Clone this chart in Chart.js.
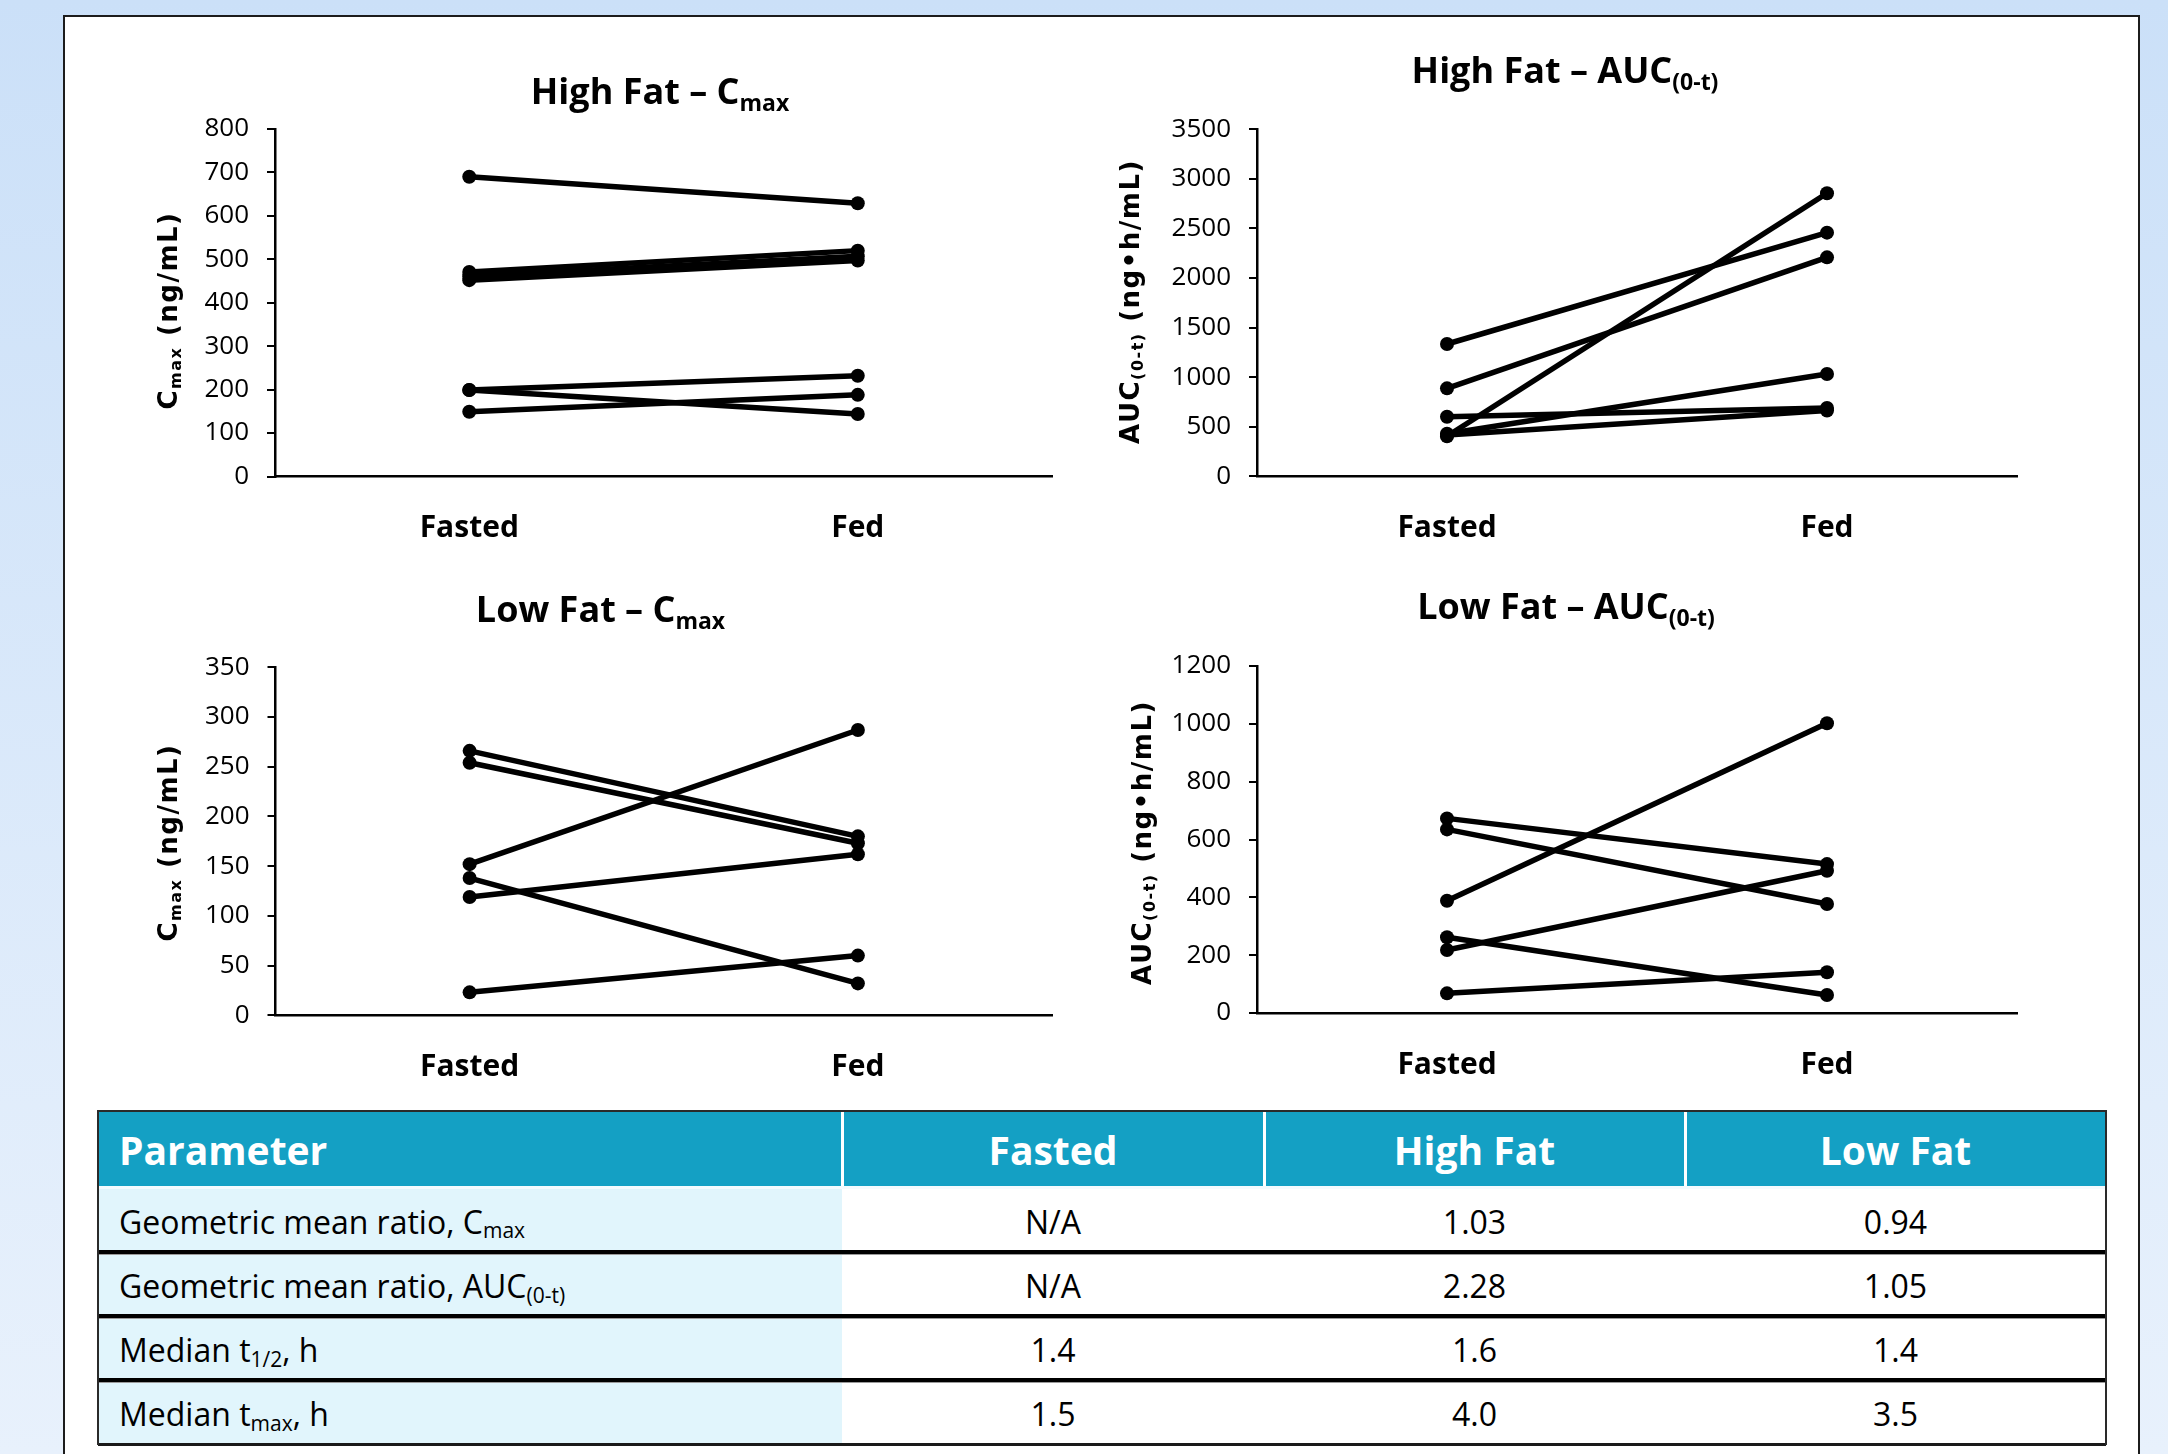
<!DOCTYPE html>
<html>
<head>
<meta charset="utf-8">
<title>Food effect on pharmacokinetics</title>
<script src="https://cdn.jsdelivr.net/npm/chart.js@4.4.1/dist/chart.umd.min.js"></script>
<style>
  html, body { margin: 0; padding: 0; }
  body {
    width: 2168px; height: 1454px; overflow: hidden; position: relative;
    background: linear-gradient(180deg, #cbe0f8 0%, #e8f1fc 100%);
    font-family: 'Open Sans', sans-serif;
  }
  #panel {
    position: absolute; left: 63px; top: 15px; width: 2077px; height: 1470px;
    background: #fff; border: 2.5px solid #1c1c1c; box-sizing: border-box;
  }
  canvas { position: absolute; }
  .cell {
    position: absolute; box-sizing: border-box; display: flex; align-items: center;
    font-size: 32px; color: #000; white-space: nowrap; padding-top: 3px;
  }
  .cell.head { background: #14a0c4; color: #fff; font-weight: 700; font-size: 39px; padding-top: 0; }
  .cell.label { background: #e1f5fc; justify-content: flex-start; padding-left: 21px; }
  .cell.value { background: #fff; justify-content: center; }
  .cell.head.first { justify-content: flex-start; padding-left: 21px; }
  .cell.head.mid { justify-content: center; }
  .rule { position: absolute; }
  sub.s { font-size: 21px; position: relative; top: 9px; vertical-align: baseline; line-height: 0; }
</style>
</head>
<body>
<div id="panel"></div>
<div id="stage"></div>
<div id="table"></div>
<script>
// ---- data ----
const categories = ['Fasted', 'Fed'];

// High fat cohort, Cmax (ng/mL), one entry per subject
const hfCmaxFasted = [690, 471, 461, 452, 199, 199, 149];
const hfCmaxFed    = [629, 520, 507, 497, 232, 144, 188];

// High fat cohort, AUC(0-t) (ng•h/mL)
const hfAucFasted = [1335, 888, 602, 405, 430, 418];
const hfAucFed    = [2458, 2209, 690, 2855, 1032, 665];

// Low fat cohort, Cmax (ng/mL)
const lfCmaxFasted = [266, 254, 152, 138, 119, 23];
const lfCmaxFed    = [180, 173, 287, 32, 162, 60];

// Low fat cohort, AUC(0-t) (ng•h/mL)
const lfAucFasted = [673, 635, 388, 262, 218, 68];
const lfAucFed    = [515, 377, 1002, 62, 492, 141];

// Summary table
const tableHeader = ['Parameter', 'Fasted', 'High Fat', 'Low Fat'];
const rowLabels = [
  ['Geometric mean ratio, C', 'max', ''],
  ['Geometric mean ratio, AUC', '(0-t)', ''],
  ['Median t', '1/2', ', h'],
  ['Median t', 'max', ', h']
];
const fastedCol  = ['N/A', 'N/A', '1.4', '1.5'];
const highFatCol = ['1.03', '2.28', '1.6', '4.0'];
const lowFatCol  = ['0.94', '1.05', '1.4', '3.5'];

// ---- charts ----
Chart.defaults.font.family = "'Open Sans', sans-serif";
Chart.defaults.color = '#000';

function drawRich(ctx, parts, x, y) {
  let total = 0;
  parts.forEach(p => { ctx.font = p.font; p.w = ctx.measureText(p.text).width; total += p.w; });
  let cx = x - total / 2;
  parts.forEach(p => { ctx.font = p.font; ctx.fillText(p.text, cx, y + (p.dy || 0)); cx += p.w; });
}

const captionPlugin = {
  id: 'caption',
  afterDraw(chart, args, o) {
    const ctx = chart.ctx;
    ctx.save();
    ctx.fillStyle = '#000';
    ctx.textAlign = 'left';
    ctx.textBaseline = 'alphabetic';
    // chart heading with subscript
    drawRich(ctx, [
      { text: o.title[0], font: "bold 36px 'Open Sans'" },
      { text: o.title[1], font: "bold 23px 'Open Sans'", dy: 7 }
    ], o.titleX - o.ox, o.titleY - o.oy);
    // vertical axis title
    ctx.translate(o.axisX - o.ox, o.axisY - o.oy);
    ctx.rotate(-Math.PI / 2);
    ctx.letterSpacing = '1.5px';
    drawRich(ctx, [
      { text: o.axis[0], font: "bold 26px 'DejaVu Sans'" },
      { text: o.axis[1], font: "bold 16px 'DejaVu Sans'", dy: 4 },
      { text: o.axis[2], font: "bold 26px 'DejaVu Sans'" }
    ], 0, 0);
    ctx.restore();
  }
};

function buildChart(c) {
  const canvas = document.createElement('canvas');
  canvas.width = c.box.w; canvas.height = c.box.h;
  canvas.style.left = c.box.x + 'px'; canvas.style.top = c.box.y + 'px';
  document.getElementById('stage').appendChild(canvas);
  const yW = c.area.left - c.box.x;
  const xH = c.box.y + c.box.h - c.area.bottom;
  new Chart(canvas, {
    type: 'line',
    data: {
      labels: categories,
      datasets: c.fasted.map((v, i) => ({
        data: [v, c.fed[i]],
        borderColor: '#000', borderWidth: 5.5, tension: 0,
        pointRadius: 7, pointBackgroundColor: '#000', pointBorderWidth: 0
      }))
    },
    options: {
      responsive: false, animation: false, devicePixelRatio: 1,
      layout: { padding: { left: 0, top: c.area.top - c.box.y, right: c.box.x + c.box.w - c.area.right, bottom: 0 } },
      plugins: {
        legend: { display: false }, tooltip: { enabled: false }, title: { display: false },
        caption: {
          ox: c.box.x, oy: c.box.y,
          title: c.title, titleX: c.titleX, titleY: c.titleY,
          axis: c.axis, axisX: c.axisX, axisY: c.axisY
        }
      },
      scales: {
        x: {
          offset: true,
          grid: { display: false, drawTicks: false },
          border: { display: true, color: '#000', width: 2.5 },
          ticks: { font: { size: 30, weight: 'bold' }, color: '#000', padding: 34 },
          afterFit: s => { s.height = xH; }
        },
        y: {
          min: 0, max: c.max,
          grid: { drawOnChartArea: false, drawTicks: true, tickLength: 8, color: '#000', lineWidth: 2 },
          border: { display: true, color: '#000', width: 2.5 },
          ticks: { stepSize: c.step, font: { size: 26 }, color: '#000', padding: 18, callback: v => String(v) },
          afterFit: s => { s.width = yW; }
        }
      }
    },
    plugins: [captionPlugin]
  });
}

buildChart({
  box: { x: 80, y: 30, w: 1010, h: 540 },
  area: { left: 275, right: 1052, top: 129, bottom: 476.5 },
  max: 800, step: 100, fasted: hfCmaxFasted, fed: hfCmaxFed,
  title: ['High Fat \u2013 C', 'max'], titleX: 660, titleY: 103.6,
  axis: ['C', 'max', ' (ng/mL)'], axisX: 177, axisY: 310.5
});
buildChart({
  box: { x: 1090, y: 30, w: 1000, h: 540 },
  area: { left: 1257, right: 2017, top: 129.3, bottom: 476.4 },
  max: 3500, step: 500, fasted: hfAucFasted, fed: hfAucFed,
  title: ['High Fat \u2013 AUC', '(0-t)'], titleX: 1565, titleY: 83,
  axis: ['AUC', '(0-t)', ' (ng\u2022h/mL)'], axisX: 1139, axisY: 301.5
});
buildChart({
  box: { x: 80, y: 570, w: 1010, h: 540 },
  area: { left: 275.5, right: 1052, top: 667.4, bottom: 1015.2 },
  max: 350, step: 50, fasted: lfCmaxFasted, fed: lfCmaxFed,
  title: ['Low Fat \u2013 C', 'max'], titleX: 600.5, titleY: 622,
  axis: ['C', 'max', ' (ng/mL)'], axisX: 177, axisY: 842.5
});
buildChart({
  box: { x: 1090, y: 570, w: 1000, h: 540 },
  area: { left: 1257, right: 2017, top: 666, bottom: 1013 },
  max: 1200, step: 200, fasted: lfAucFasted, fed: lfAucFed,
  title: ['Low Fat \u2013 AUC', '(0-t)'], titleX: 1566, titleY: 619,
  axis: ['AUC', '(0-t)', ' (ng\u2022h/mL)'], axisX: 1151, axisY: 842.5
});

// ---- table ----
(function buildTable() {
  const host = document.getElementById('table');
  const colX = [98, 842, 1264, 1685, 2106];
  const rowY = [1111, 1187, 1252, 1316, 1380, 1444];
  function box(cls, x, y, w, h, html) {
    const d = document.createElement('div');
    d.className = cls;
    Object.assign(d.style, { left: x + 'px', top: y + 'px', width: w + 'px', height: h + 'px' });
    if (html !== undefined) d.innerHTML = html;
    host.appendChild(d);
    return d;
  }
  tableHeader.forEach((t, i) => {
    box('cell head ' + (i === 0 ? 'first' : 'mid'), colX[i], rowY[0], colX[i + 1] - colX[i], rowY[1] - rowY[0], t);
  });
  const cols = [fastedCol, highFatCol, lowFatCol];
  rowLabels.forEach((lab, r) => {
    const y = rowY[r + 1], h = rowY[r + 2] - rowY[r + 1];
    box('cell label', colX[0], y, colX[1] - colX[0], h, lab[0] + '<sub class="s">' + lab[1] + '</sub>' + lab[2]);
    cols.forEach((col, c) => box('cell value', colX[c + 1], y, colX[c + 2] - colX[c + 1], h, col[r]));
  });
  // header dividers
  for (let i = 1; i < 4; i++) {
    box('rule', colX[i] - 1.5, rowY[0], 3, rowY[1] - rowY[0]).style.background = '#fff';
  }
  box('rule', colX[0], rowY[1] - 1, colX[4] - colX[0], 3).style.background = '#f4fbfe';
  // row separators
  for (let r = 2; r <= 4; r++) {
    box('rule', colX[0], rowY[r] - 2, colX[4] - colX[0], 3.5).style.background = '#000';
    box('rule', colX[0], rowY[r] + 1.5, colX[4] - colX[0], 1).style.background = '#9a9a9a';
  }
  // outer frame
  box('rule', colX[0], rowY[0] - 1, colX[4] - colX[0], 2).style.background = '#2a2a2a';
  box('rule', colX[0], rowY[5] - 1, colX[4] - colX[0], 2.5).style.background = '#1a1a1a';
  box('rule', colX[0] - 1, rowY[0] - 1, 2, rowY[5] - rowY[0] + 2).style.background = '#2a2a2a';
  box('rule', colX[4] - 1, rowY[0] - 1, 2, rowY[5] - rowY[0] + 2).style.background = '#2a2a2a';
})();
</script>
</body>
</html>
